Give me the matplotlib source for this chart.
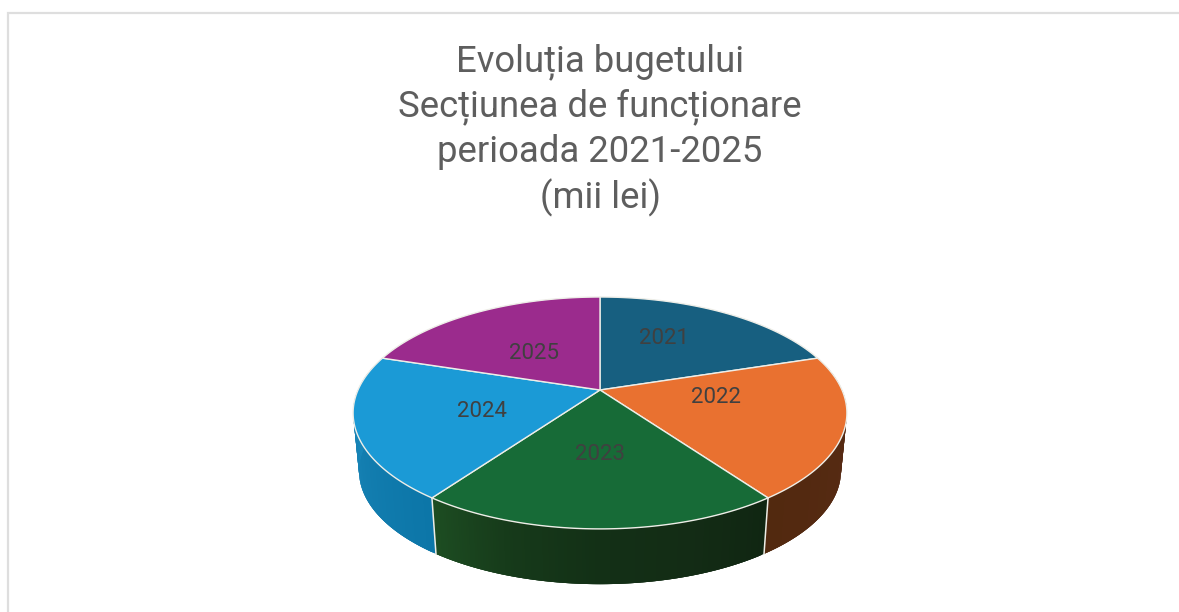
import numpy as np
import matplotlib
matplotlib.use("Agg")
import matplotlib.pyplot as plt
from matplotlib.patches import Polygon
from matplotlib.colors import LinearSegmentedColormap

years = ["2021", "2022", "2023", "2024", "2025"]
shares = [20.1, 20.0, 19.8, 20.0, 20.1]
top_colors = ["#175F80", "#E97130", "#176B37", "#1B9AD6", "#9B2B8D"]
title_lines = ["Evoluția bugetului", "Secțiunea de funcționare", "perioada 2021-2025", "(mii lei)"]

side_ramps = {
    "2022": ["#5C2E15", "#562A13", "#52290F"],
    "2023": ["#1D4D22", "#163A1A", "#133016", "#132C15", "#102612"],
    "2024": ["#0C76A8", "#1580B2", "#1C8EC2"],
}

W, H = 1179, 612
fig = plt.figure(figsize=(W / 100, H / 100), dpi=100, facecolor="white")
ax = fig.add_axes([0, 0, 1, 1])
ax.set_xlim(0, W)
ax.set_ylim(H, 0)
ax.axis("off")

# frame
ax.plot([8, 8, 1178], [612, 13, 13], color="#DEDEDE", lw=1.6, solid_joinstyle="miter")

# perspective projection of the disc
cx, cy = 600.0, 390.0
A, B, k = 242.0, 111.4, 0.198
depth_scale, depth_cy = 0.976, 448.6


def top(theta):
    u, v = np.sin(theta), np.cos(theta)
    w = 1 + k * v
    return cx + A * u / w, cy - B * v / w


def bottom(theta):
    x, y = top(theta)
    return cx + depth_scale * (x - cx), depth_cy + depth_scale * (y - cy)


edges = np.concatenate([[0], np.cumsum(shares)]) / np.sum(shares) * 2 * np.pi

# sides: overlapping quads, so no background shows through the seams
for i, year in enumerate(years):
    if year not in side_ramps:
        continue
    t = np.linspace(edges[i], edges[i + 1], 120)
    xt, yt = top(t)
    xb, yb = bottom(t)
    cmap = LinearSegmentedColormap.from_list(year, side_ramps[year])
    n = len(t) - 1
    for j in range(n):
        e = min(j + 3, n)
        poly = [(xt[j], yt[j]), *zip(xt[j + 1:e + 1], yt[j + 1:e + 1]),
                *zip(xb[j + 1:e + 1][::-1], yb[j + 1:e + 1][::-1]), (xb[j], yb[j])]
        c = cmap(1 - j / (n - 1)) if year == "2023" else cmap(j / (n - 1))
        ax.add_patch(Polygon(poly, closed=True, facecolor=c, edgecolor="none", lw=0, zorder=2))

# light separators on the side
for e in (edges[2], edges[3]):
    xt, yt = top(e)
    xb, yb = bottom(e)
    ax.plot([xt, xb], [yt, yb], color="#EDEDE6", lw=1.1, zorder=3)

# top slices
for i, year in enumerate(years):
    t = np.linspace(edges[i], edges[i + 1], 120)
    xt, yt = top(t)
    pts = np.column_stack([np.r_[cx, xt], np.r_[cy, yt]])
    ax.add_patch(Polygon(pts, closed=True, facecolor=top_colors[i], edgecolor="#EEEEE8",
                         lw=1.0, joinstyle="round", zorder=4))

# labels
label_xy = [(664, 336), (716, 395), (600, 452), (482, 409), (534, 351)]
for year, (lx, ly) in zip(years, label_xy):
    ax.text(lx, ly, year, ha="center", va="center_baseline", fontsize=16, color="#404040",
            family="Roboto", zorder=5)

# title
for line, y in zip(title_lines, [57, 102, 148, 194]):
    ax.text(600, y, line, ha="center", va="center_baseline", fontsize=26.3, color="#5E5E5E", family="Roboto")

fig.savefig("out.png", dpi=100, facecolor="white")
